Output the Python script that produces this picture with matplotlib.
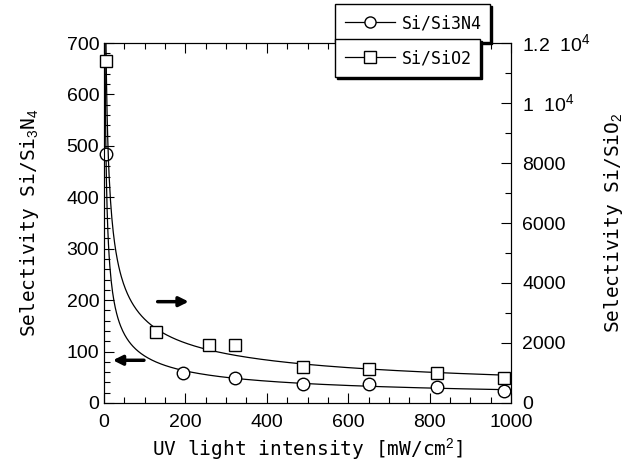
import numpy as np
import matplotlib.pyplot as plt
from matplotlib.ticker import MultipleLocator, FixedLocator
from matplotlib.lines import Line2D

# UV light intensity [mW/cm2]
x_n = [5, 193, 323, 489, 652, 819, 983]
sel_n = [485, 58, 48, 37, 37, 31, 23]          # Si/Si3N4, eixo esquerdo
x_o = [5, 128, 259, 323, 489, 652, 819, 983]
sel_o = [11400, 2370, 1930, 1930, 1200, 1130, 1000, 830]  # Si/SiO2, eixo direito

yticks_r = [0, 2000, 4000, 6000, 8000, 10000, 12000]
yticklabels_r = ['0', '2000', '4000', '6000', '8000', r'1  10$^4$', r'1.2  10$^4$']

plt.rcParams['font.family'] = ['Liberation Sans', 'DejaVu Sans']
plt.rcParams['mathtext.fontset'] = 'custom'
plt.rcParams['mathtext.rm'] = 'Liberation Sans'
mono = ['DejaVu Sans Mono']

fig = plt.figure(figsize=(6.38, 4.68), dpi=100)
ax = fig.add_axes([0.163, 0.139, 0.638, 0.769])
ax2 = ax.twinx()

# curvas de ajuste (lei de potência ajustada aos pontos)
xf = np.linspace(1, 1000, 600)
bn, an = np.polyfit(np.log(x_n), np.log(sel_n), 1)
bo, ao = np.polyfit(np.log(x_o), np.log(sel_o), 1)
ax.plot(xf, np.exp(an) * xf**bn, 'k-', lw=0.9)
ax2.plot(xf, np.exp(ao) * xf**bo, 'k-', lw=0.9)

ax.plot(x_n, sel_n, 'o', mfc='white', mec='black', ms=9, mew=1.0, zorder=5, clip_on=False)
ax2.plot(x_o, sel_o, 's', mfc='white', mec='black', ms=9, mew=1.0, zorder=5, clip_on=False)

ax.set_xlim(0, 1000)
ax.set_ylim(0, 700)
ax2.set_ylim(0, 12000)

ax.xaxis.set_major_locator(MultipleLocator(200))
ax.xaxis.set_minor_locator(MultipleLocator(50))
ax.yaxis.set_major_locator(MultipleLocator(100))
ax.yaxis.set_minor_locator(MultipleLocator(20))
ax2.yaxis.set_major_locator(FixedLocator(yticks_r))
ax2.yaxis.set_minor_locator(MultipleLocator(1000))
ax2.set_yticklabels(yticklabels_r)

ax.tick_params(which='both', direction='in', top=True, right=False, labelsize=14)
ax.tick_params(which='major', length=7, width=0.8)
ax.tick_params(which='minor', length=4, width=0.8)
ax.tick_params(axis='x', pad=8)
ax2.tick_params(which='both', direction='in', labelsize=14)
ax2.tick_params(which='major', length=7, width=0.8, pad=8)
ax2.tick_params(which='minor', length=4, width=0.8)

ax.set_xlabel(r'UV light intensity [mW/cm$^2$]', family=mono, fontsize=14, labelpad=4)
ax.set_ylabel(r'Selectivity Si/Si$_3$N$_4$', family=mono, fontsize=14, labelpad=18)
ax2.set_ylabel(r'Selectivity Si/SiO$_2$', family=mono, fontsize=14, labelpad=8)

# setas
ax.annotate('', xy=(215, 197), xytext=(125, 197),
            arrowprops=dict(arrowstyle='-|>', color='black', lw=2.5, mutation_scale=14))
ax.annotate('', xy=(15, 83), xytext=(105, 83),
            arrowprops=dict(arrowstyle='-|>', color='black', lw=2.5, mutation_scale=14))

# legenda em duas caixas
h1 = Line2D([], [], color='k', lw=0.9, marker='o', mfc='white', mec='k', ms=8)
h2 = Line2D([], [], color='k', lw=0.9, marker='s', mfc='white', mec='k', ms=8)
for h, lbl, box in [(h1, 'Si/Si3N4', (0.525, 0.912, 0.243, 0.077)),
                    (h2, 'Si/SiO2', (0.525, 0.837, 0.227, 0.077))]:
    leg = fig.legend([h], [lbl], loc='center left', bbox_to_anchor=box, mode='expand',
                     frameon=True, fancybox=False,
                     shadow={'color': 'black', 'alpha': 1, 'ox': 1.5, 'oy': -1.5},
                     edgecolor='black', framealpha=1, borderaxespad=0,
                     prop={'family': mono, 'size': 12}, handlelength=3.0,
                     borderpad=0.6, handletextpad=0.4)
    leg.get_frame().set_linewidth(1.0)

fig.savefig('out.png', dpi=100)
